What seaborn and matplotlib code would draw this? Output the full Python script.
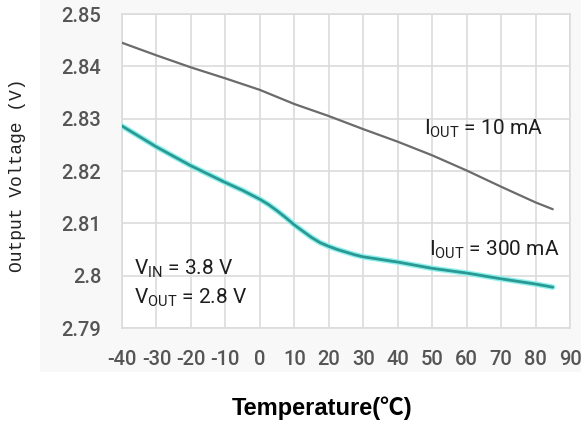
import matplotlib
matplotlib.use("Agg")
import matplotlib.pyplot as plt
from matplotlib.patches import Rectangle
import seaborn as sns
import pandas as pd

# Output voltage vs. temperature, two load currents
temp_10ma = [-40, -30, -20, -10, 0, 10, 20, 30, 40, 50, 60, 70, 80, 85]
vout_10ma = [2.8445, 2.8421, 2.8398, 2.8377, 2.8355, 2.8328, 2.8305, 2.8280,
             2.8256, 2.8230, 2.8201, 2.8170, 2.8140, 2.8127]

temp_300ma = [-40, -30, -20, -10, -5, 0, 2.5, 5, 7.5, 10, 12.5, 15, 17.5, 20,
              22.5, 25, 27.5, 30, 35, 40, 50, 60, 70, 80, 85]
vout_300ma = [2.8286, 2.8246, 2.8210, 2.8178, 2.8163, 2.8146, 2.8136, 2.8124,
              2.8111, 2.8097, 2.8085, 2.8073, 2.8063, 2.8056, 2.8050, 2.8045,
              2.8040, 2.8036, 2.8031, 2.8026, 2.8014, 2.8005, 2.7994, 2.7984,
              2.7978]

x_ticks = [-40, -30, -20, -10, 0, 10, 20, 30, 40, 50, 60, 70, 80, 90]
y_ticks = [2.79, 2.80, 2.81, 2.82, 2.83, 2.84, 2.85]
y_tick_labels = ["2.79", "2.8", "2.81", "2.82", "2.83", "2.84", "2.85"]

df10 = pd.DataFrame({"Temperature": temp_10ma, "Vout": vout_10ma})
df300 = pd.DataFrame({"Temperature": temp_300ma, "Vout": vout_300ma})

sns.set_style("white")
plt.rcParams["font.family"] = ["Roboto", "DejaVu Sans"]
plt.rcParams["mathtext.default"] = "regular"

fig = plt.figure(figsize=(5.81, 4.24), dpi=100)
fig.patch.set_facecolor("white")
# light panel behind the chart area
fig.patches.append(Rectangle((40 / 581, 1 - 372 / 424), 1 - 40 / 581, 372 / 424,
                             transform=fig.transFigure, facecolor="#f8f8f8",
                             edgecolor="none", zorder=-10))

ax = fig.add_axes([122 / 581, 1 - 328 / 424, (570 - 122) / 581, (328 - 14) / 424])
ax.set_facecolor("white")

sns.lineplot(data=df10, x="Temperature", y="Vout", ax=ax, color="#6b6b6b",
             linewidth=1.6, zorder=3)
# soft cyan halo under the 300 mA curve
sns.lineplot(data=df300, x="Temperature", y="Vout", ax=ax, color="#8ff0ec",
             linewidth=4.0, zorder=3)
sns.lineplot(data=df300, x="Temperature", y="Vout", ax=ax, color="#2a9993",
             linewidth=2.0, zorder=4)

ax.set_xlim(-40, 90)
ax.set_ylim(2.79, 2.85)
ax.set_xticks(x_ticks)
ax.set_xticklabels([str(t) for t in x_ticks])
ax.set_yticks(y_ticks)
ax.set_yticklabels(y_tick_labels)
ax.grid(True, color="#dcdcdc", linewidth=1.2)
for s in ax.spines.values():
    s.set_color("#dcdcdc")
    s.set_linewidth(1.2)
ax.tick_params(axis="both", length=0, labelsize=14.5, labelcolor="#555555")
ax.tick_params(axis="y", pad=15)
ax.tick_params(axis="x", pad=16)
for lab in ax.get_xticklabels() + ax.get_yticklabels():
    lab.set_fontweight("medium")

ax.set_xlabel("")
ax.set_ylabel("")
fig.text(322 / 581, 1 - 408 / 424, "Temperature(℃)", ha="center", va="center",
         fontsize=17, fontweight="bold", color="black",
         family=["Liberation Sans", "Noto Sans CJK SC"])
fig.text(18 / 581, 1 - 175 / 424, "Output Voltage (V)", ha="center", va="center",
         rotation=90, fontsize=13, color="#222222", family=["Liberation Mono"])

note_kw = dict(fontsize=15, color="#1e1e1e", va="center", ha="left",
               transform=ax.transData)
ax.text(47.5, 2.8281, "$I_{OUT}$ = 10 mA", **note_kw)
ax.text(49, 2.8049, "$I_{OUT}$ = 300 mA", **note_kw)
ax.text(-36.5, 2.8013, "$V_{IN}$ = 3.8 V", **note_kw)
ax.text(-36.5, 2.7958, "$V_{OUT}$ = 2.8 V", **note_kw)

fig.savefig("out.png", dpi=100)
